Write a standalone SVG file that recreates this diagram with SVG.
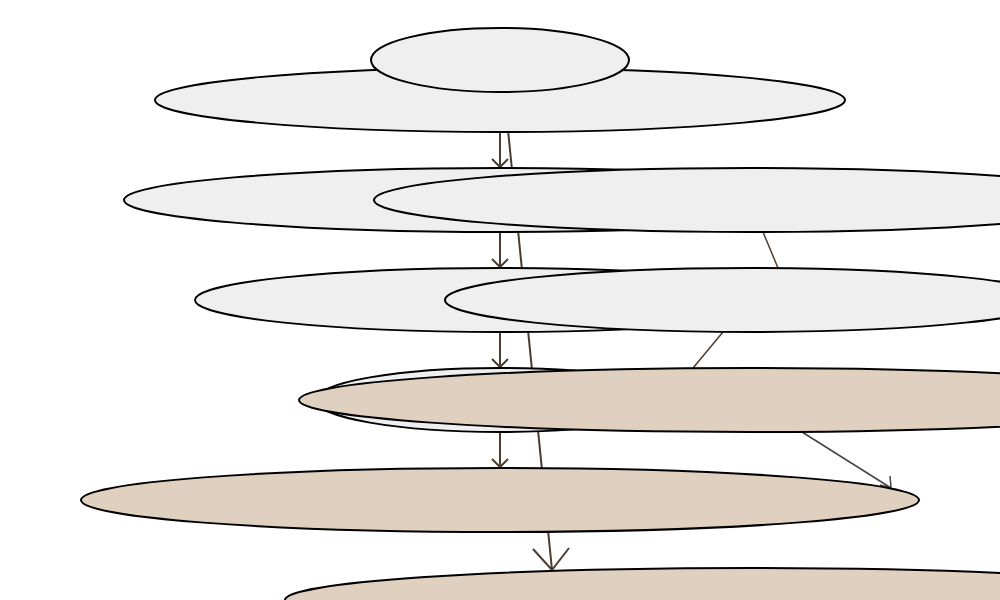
<svg xmlns="http://www.w3.org/2000/svg" width="1000" height="600" viewBox="0 0 1000 600">
<style>
.g{fill:#efefef;stroke:#000;stroke-width:2}
.t{fill:#dfd0bf;stroke:#000;stroke-width:2}
.c{fill:none;stroke:#4a3c2e;stroke-width:2}
.c2{fill:none;stroke:#4a3c2e;stroke-width:1.5}
.c3{fill:none;stroke:#444;stroke-width:1.5}
</style>
<rect width="1000" height="600" fill="#fff"/>
<g id="connectors">
<path class="c" d="M500,132 L500,167 M492,159 L500,167 L508,159"/>
<path class="c" d="M500,232 L500,267 M492,259 L500,267 L508,259"/>
<path class="c" d="M500,332 L500,367 M492,359 L500,367 L508,359"/>
<path class="c" d="M500,432 L500,467 M492,459 L500,467 L508,459"/>
<path class="c" d="M501,60 L552,570 M533,549 L552,570 L569,548"/>
<path class="c2" d="M763,232 L778,268"/>
<path class="c2" d="M723,332 L693,368"/>
<path class="c3" d="M802,432 L891,488 M890,476 L891,488 L880,485"/>
</g>
<g id="n1"><ellipse class="g" cx="500" cy="100" rx="345" ry="32"/></g>
<g id="n0"><ellipse class="g" cx="500" cy="60" rx="129" ry="32"/></g>
<g id="n2"><ellipse class="g" cx="500" cy="200" rx="376" ry="32"/></g>
<g id="n3"><ellipse class="g" cx="750" cy="200" rx="376" ry="32"/></g>
<g id="n4"><ellipse class="g" cx="500" cy="300" rx="305" ry="32"/></g>
<g id="n5"><ellipse class="g" cx="750" cy="300" rx="305" ry="32"/></g>
<g id="n6"><ellipse class="g" cx="500" cy="400" rx="184" ry="32"/></g>
<g id="n7"><ellipse class="t" cx="750" cy="400" rx="451" ry="32"/></g>
<g id="n8"><ellipse class="t" cx="500" cy="500" rx="419" ry="32"/></g>
<g id="n9"><ellipse class="t" cx="750" cy="600" rx="465" ry="32"/></g>
</svg>
